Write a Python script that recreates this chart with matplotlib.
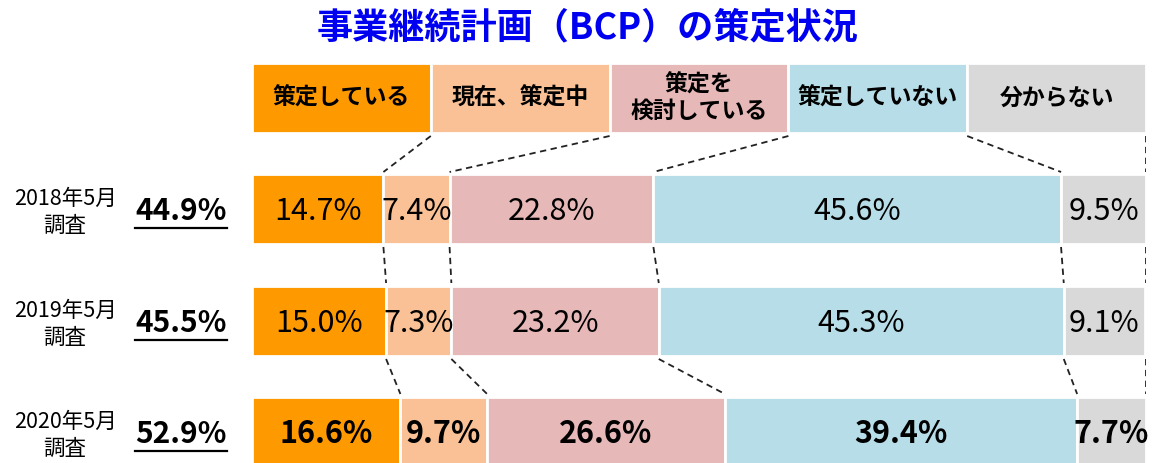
import numpy as np
import matplotlib.pyplot as plt
import matplotlib.transforms as mtransforms

plt.rcParams['font.family'] = ['Noto Sans CJK JP', 'DejaVu Sans']

# データ
categories = ['策定している', '現在、策定中', '策定を\n検討している', '策定していない', '分からない']
colors = ['#FF9900', '#F9C195', '#E6B8B7', '#B7DEE8', '#D9D9D9']
surveys = ['2018年5月\n調査', '2019年5月\n調査', '2020年5月\n調査']
totals = ['44.9%', '45.5%', '52.9%']
v2018 = [14.7, 7.4, 22.8, 45.6, 9.5]
v2019 = [15.0, 7.3, 23.2, 45.3, 9.1]
v2020 = [16.6, 9.7, 26.6, 39.4, 7.7]
values = [v2018, v2019, v2020]

W, H = 1154, 463
fig = plt.figure(figsize=(W / 100, H / 100), dpi=100)
# 棒グラフ領域 (x: 252..1146 px)
ax = fig.add_axes([252 / W, 0, (1146 - 252) / W, 1])
ax.set_xlim(0, 100)
ax.set_ylim(H, 0)
ax.axis('off')

xfig = mtransforms.blended_transform_factory(fig.transFigure, ax.transData)

# 見出しの箱
head_y, head_h = 98, 70
n = len(categories)
step = 100 / n
for i, (c, col) in enumerate(zip(categories, colors)):
    ax.barh(head_y, step, left=i * step, height=head_h, color=col,
            edgecolor='white', linewidth=2)
    ax.text(i * step + step / 2, head_y, c, ha='center', va='center',
            fontsize=16.5, fontweight='bold', linespacing=1.2)

# 各年の棒
bar_y = [209, 321, 432]
bar_h = 70
for k, vals in enumerate(values):
    left = 0
    bold = (k == len(values) - 1)
    for v, col in zip(vals, colors):
        ax.barh(bar_y[k], v, left=left, height=bar_h, color=col,
                edgecolor='white', linewidth=2)
        ax.text(left + v / 2, bar_y[k] + 2, f'{v:.1f}%', ha='center', va='center',
                fontsize=22, fontweight='bold' if bold else 'normal')
        left += v

# 破線（見出し -> 2018）
cum = [np.cumsum(v) for v in values]
ls = dict(color='#222222', lw=1.3, ls=(0, (3.5, 2.5)))
for i in range(n):
    ax.plot([(i + 1) * step, cum[0][i]], [head_y + head_h / 2 + 3, bar_y[0] - bar_h / 2 - 2], **ls)
# 破線（年 -> 年）
for k in range(len(values) - 1):
    for i in range(n):
        x0 = cum[k][i] if i < n - 1 else 100
        x1 = cum[k + 1][i] if i < n - 1 else 100
        ax.plot([x0, x1], [bar_y[k] + bar_h / 2 + 3, bar_y[k + 1] - bar_h / 2 - 3], **ls)

# 左側のラベル
fig.canvas.draw()
r = fig.canvas.get_renderer()
for k in range(len(values)):
    ax.text(65 / W, bar_y[k] + 3, surveys[k], transform=xfig, ha='center', va='center',
            fontsize=15.5, linespacing=1.3)
    t = ax.text(181 / W, bar_y[k] + 2, totals[k], transform=xfig, ha='center', va='center',
                fontsize=21.5, fontweight='bold')
    bb = t.get_window_extent(r).transformed(fig.transFigure.inverted())
    ax.plot([bb.x0, bb.x1], [bar_y[k] + 19, bar_y[k] + 19], transform=xfig,
            color='black', lw=1.6, clip_on=False)

# タイトル
ax.text(588 / W, 28, '事業継続計画（BCP）の策定状況', transform=xfig, ha='center', va='center',
        fontsize=26, fontweight='bold', color='#0000F0')

fig.savefig('out.png', dpi=100)
